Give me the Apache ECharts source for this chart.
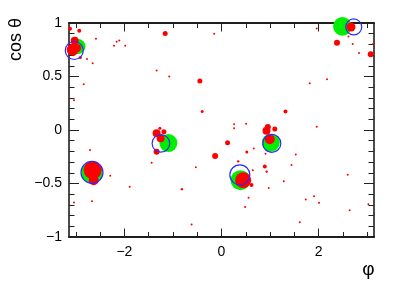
<!DOCTYPE html>
<html><head><meta charset="utf-8">
<script src="https://cdn.jsdelivr.net/npm/echarts@6/dist/echarts.min.js"></script>
<style>html,body{margin:0;padding:0;background:#fff}#c{width:407px;height:289px}</style>
</head><body><div id="c"></div>
<script>
// tick values
const xMajorTicks = [-2, 0, 2];
const xMinorTicks = [-3, -2.5, -1.5, -1, -0.5, 0.5, 1, 1.5, 2.5, 3];

// hits: [phi, cosTheta, energy]
const redHits = [
  [-3.024, 0.834, 4], [-3.065, 0.750, 6], [-2.977, 0.766, 4], [-3.121, 0.947, 2], [-2.930, 0.928, 2],
  [-2.586, 0.853, 1], [-2.771, 0.663, 1], [-2.654, 0.625, 1], [-2.909, 0.678, 1.5], [-2.839, 0.428, 1],
  [-2.160, 0.825, 1], [-2.106, 0.837, 1], [-1.983, 0.787, 1], [-2.215, 0.787, 1],
  [-3.039, 0.278, 1], [-2.709, -0.187, 1], [-2.292, -0.428, 1], [-1.892, -0.531, 1],
  [-3.039, -0.678, 1], [-2.668, -0.665, 1],
  [-2.654, -0.375, 9], [-2.633, -0.469, 5],
  [-1.160, 0.903, 2.5], [-0.151, 0.900, 1], [-1.337, 0.556, 1], [-1.077, 0.500, 1], [-0.446, 0.459, 2.5],
  [-1.337, -0.031, 4], [-1.254, -0.078, 4], [-1.186, -0.016, 2.5], [-1.269, 0.016, 1.5], [-1.337, -0.203, 3],
  [-0.398, 0.172, 1.5], [0.125, -0.119, 2.5], [-0.131, -0.244, 3], [0.522, -0.206, 1.5],
  [0.260, 0.053, 1], [0.507, 0.059, 1], [0.260, 0.016, 1], [0.666, -0.172, 1], [0.343, -0.293, 1.2],
  [-0.528, -0.347, 1], [-1.440, -0.306, 1], [-0.816, -0.553, 1.2], [0.892, -0.340, 2], [0.645, -0.375, 1],
  [0.933, -0.387, 1], [0.557, -0.634, 1], [0.487, -0.719, 1], [-0.616, -0.884, 1],
  [0.446, -0.469, 8], [0.618, -0.515, 2],
  [0.927, -0.007, 4], [0.995, -0.087, 5], [1.098, 0.009, 2.5], [0.954, 0.028, 3],
  [1.318, 0.172, 2], [1.962, 0.031, 1], [0.907, -0.222, 1], [1.530, -0.228, 1], [1.442, -0.328, 1],
  [0.927, -0.391, 1], [1.283, -0.478, 1], [2.600, -0.419, 1], [0.974, -0.541, 1], [1.907, -0.619, 1],
  [1.736, -0.649, 1], [2.010, -0.681, 1], [2.641, -0.750, 1], [1.612, -0.862, 1], [3.026, -0.694, 1],
  [2.668, 0.963, 4.5], [2.380, 0.815, 3], [3.074, 0.709, 3], [3.121, 0.803, 1], [1.962, 0.949, 1],
  [2.615, 0.874, 1], [2.703, 0.803, 1], [2.833, 0.719, 1], [2.174, 0.475, 1], [1.818, 0.438, 1]
];
const greenClusters = [
  [-2.956, 0.781, 7.5], [-2.668, -0.396, 10.8], [-1.094, -0.122, 9],
  [0.392, -0.469, 10], [1.016, -0.119, 9], [2.491, 0.968, 9.3]
];
const blueClusters = [
  [-3.033, 0.743, 9], [-2.668, -0.396, 11], [-1.248, -0.125, 8.8],
  [0.378, -0.419, 10], [1.036, -0.125, 9], [2.724, 0.963, 8]
];

const PI = Math.PI;
const FONT = "'Liberation Sans', Arial, Helvetica, sans-serif";
const AXC = '#111';
const TKC = '#222';
const minus = v => String(v).replace('-', '\u2212');
const sz = d => d[2] * 2;

function xAxisDef(pos, ticks, len, labels) {
  return {
    type: 'value', position: pos, min: -PI, max: PI,
    axisLine: { show: true, onZero: false, lineStyle: { color: AXC, width: 1.5 } },
    axisTick: { show: true, inside: true, length: len, customValues: ticks, lineStyle: { color: TKC, width: 1 } },
    axisLabel: labels ? { show: true, customValues: ticks, margin: 8, fontSize: 14, color: '#000', fontFamily: FONT, formatter: minus }
                      : { show: false },
    splitLine: { show: false }
  };
}
function yAxisDef(pos, labels) {
  return {
    type: 'value', position: pos, min: -1, max: 1, interval: 0.5,
    axisLine: { show: true, onZero: false, lineStyle: { color: AXC, width: 1.5 } },
    axisTick: { show: true, inside: true, length: 10, lineStyle: { color: TKC, width: 1 } },
    minorTick: { show: true, splitNumber: 5, length: 5.5, lineStyle: { color: TKC, width: 1 } },
    axisLabel: labels ? { show: true, margin: 7, fontSize: 14, color: '#000', fontFamily: FONT, formatter: minus } : { show: false },
    splitLine: { show: false }, minorSplitLine: { show: false }
  };
}

const chart = echarts.init(document.getElementById('c'), null, { renderer: 'canvas' });
chart.setOption({
  animation: false,
  backgroundColor: '#fff',
  grid: { left: 69, top: 23, right: 33, bottom: 52 },
  xAxis: [
    xAxisDef('bottom', xMajorTicks, 8.5, true),
    xAxisDef('bottom', xMinorTicks, 5, false),
    xAxisDef('top', xMajorTicks, 8.5, false),
    xAxisDef('top', xMinorTicks, 5, false)
  ],
  yAxis: [yAxisDef('left', true), yAxisDef('right', false)],
  series: [
    { type: 'scatter', data: greenClusters, symbolSize: sz, itemStyle: { color: '#00ee00', opacity: 1 }, xAxisIndex: 0, yAxisIndex: 0 },
    { type: 'scatter', data: redHits, symbolSize: sz, itemStyle: { color: '#ff0000', opacity: 1 }, xAxisIndex: 0, yAxisIndex: 0 },
    { type: 'scatter', data: blueClusters, symbolSize: sz, itemStyle: { color: 'rgba(0,0,0,0)', borderColor: '#2a2aff', borderWidth: 1.2, opacity: 1 }, xAxisIndex: 0, yAxisIndex: 0 }
  ],
  graphic: [
    { type: 'text', x: 16, y: 18, rotation: PI / 2,
      style: { text: 'cos \u03b8', fontSize: 18, fontFamily: FONT, fill: '#000', align: 'right', verticalAlign: 'middle' } },
    { type: 'text', x: 374.5, y: 269.5,
      style: { text: '\u03c6', fontSize: 19, fontFamily: FONT, fill: '#000', align: 'right', verticalAlign: 'middle' } }
  ]
});
</script>
</body></html>
